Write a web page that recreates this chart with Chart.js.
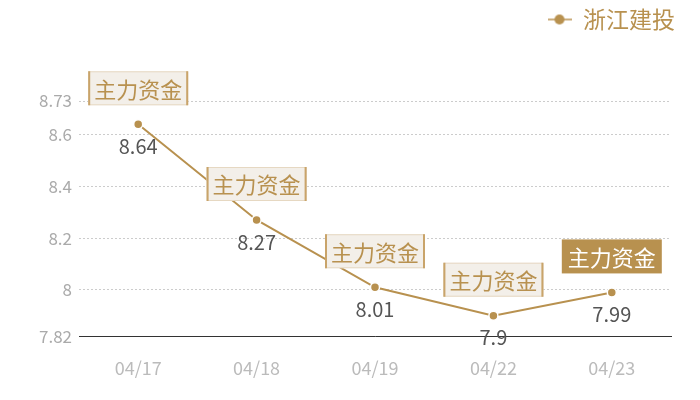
<!DOCTYPE html>
<html>
<head>
<meta charset="utf-8">
<script src="https://cdn.jsdelivr.net/npm/chart.js@4/dist/chart.umd.min.js"></script>
<style>
html,body{margin:0;padding:0;background:#fff;}
#wrap{width:700px;height:400px;}
</style>
</head>
<body>
<div id="wrap"><canvas id="c" width="700" height="400"></canvas></div>
<script>
const categories = ["04/17", "04/18", "04/19", "04/22", "04/23"];
const seriesName = "浙江建投";
const values = [8.64, 8.27, 8.01, 7.9, 7.99];
const yTicks = [7.82, 8, 8.2, 8.4, 8.6, 8.73];
const tagText = "主力资金";

const GOLD = "#b8914f";
const FONT = "'Noto Sans CJK SC', 'Noto Sans', sans-serif";

// legend icon: short line with a dot
const icon = document.createElement("canvas");
icon.width = 24; icon.height = 12;
(function(){
  const g = icon.getContext("2d");
  g.strokeStyle = GOLD; g.lineWidth = 1.5;
  g.beginPath(); g.moveTo(0, 6); g.lineTo(24, 6); g.stroke();
  g.fillStyle = GOLD;
  g.beginPath(); g.arc(12, 6, 5, 0, Math.PI * 2); g.fill();
})();

const legendSpace = {
  id: "legendSpace",
  beforeInit(chart) {
    const lg = chart.legend;
    const orig = lg.fit;
    lg.fit = function() { orig.call(this); this.height += 60; };
  },
  afterLayout(chart) {
    chart.legend.left += 12;
    chart.legend.right += 12;
  }
};

const tagPlugin = {
  id: "tags",
  afterDatasetsDraw(chart) {
    const ctx = chart.ctx;
    const meta = chart.getDatasetMeta(0);
    ctx.save();
    meta.data.forEach((pt, i) => {
      const x = pt.x, y = pt.y;
      ctx.font = "20px " + FONT;
      ctx.fillStyle = "#555";
      ctx.textAlign = "center";
      ctx.textBaseline = "middle";
      ctx.fillText(String(values[i]), x, y + 22);
      ctx.font = "22px " + FONT;
      const w = 100, h = 34;
      const bx = x - w / 2, by = y - 19 - h;
      const last = i === values.length - 1;
      if (last) {
        ctx.fillStyle = GOLD;
        ctx.fillRect(bx, by, w, h);
        ctx.fillStyle = "#fff";
      } else {
        ctx.fillStyle = "#f3efe9";
        ctx.fillRect(bx, by, w, h);
        ctx.strokeStyle = "#e6d8c2";
        ctx.lineWidth = 1;
        ctx.strokeRect(bx + 0.5, by + 0.5, w - 1, h - 1);
        ctx.strokeStyle = "#c9a46a";
        ctx.lineWidth = 2;
        ctx.beginPath();
        ctx.moveTo(bx + 1, by); ctx.lineTo(bx + 1, by + h);
        ctx.moveTo(bx + w - 1, by); ctx.lineTo(bx + w - 1, by + h);
        ctx.stroke();
        ctx.fillStyle = GOLD;
      }
      ctx.textAlign = "center";
      ctx.textBaseline = "middle";
      ctx.fillText(tagText, x, by + h / 2 + 1);
    });
    ctx.restore();
  }
};

new Chart(document.getElementById("c"), {
  type: "line",
  data: {
    labels: categories,
    datasets: [{
      label: seriesName,
      data: values,
      borderColor: GOLD,
      backgroundColor: GOLD,
      borderWidth: 2,
      pointRadius: 4.5,
      pointBackgroundColor: GOLD,
      pointBorderColor: "#fff",
      pointBorderWidth: 1.5,
      tension: 0,
      clip: false
    }]
  },
  options: {
    responsive: false,
    animation: false,
    devicePixelRatio: 1,
    layout: { padding: { top: 0, right: 29, bottom: 0, left: 0 } },
    plugins: {
      legend: {
        display: true,
        position: "top",
        align: "end",
        labels: {
          usePointStyle: true,
          pointStyle: icon,
          pointStyleWidth: 24,
          color: GOLD,
          font: { size: 23, family: FONT },
          padding: 8,
          boxHeight: 12
        }
      },
      tooltip: { enabled: false }
    },
    scales: {
      x: {
        offset: true,
        grid: { display: false, drawTicks: false },
        border: { display: true, color: "#333", width: 1 },
        ticks: { color: "#bbb", font: { size: 18, family: FONT }, padding: 21 }
      },
      y: {
        min: 7.82,
        max: 8.73,
        afterBuildTicks(axis) { axis.ticks = yTicks.map(v => ({ value: v })); },
        afterFit(axis) { axis.width = 79; },
        grid: { color: "#ccc", drawTicks: false },
        border: { display: false, dash: [2, 2] },
        ticks: {
          color: "#aaa",
          font: { size: 17, family: FONT },
          padding: 7,
          callback: v => String(v)
        }
      }
    }
  },
  plugins: [legendSpace, tagPlugin]
});
</script>
</body>
</html>
